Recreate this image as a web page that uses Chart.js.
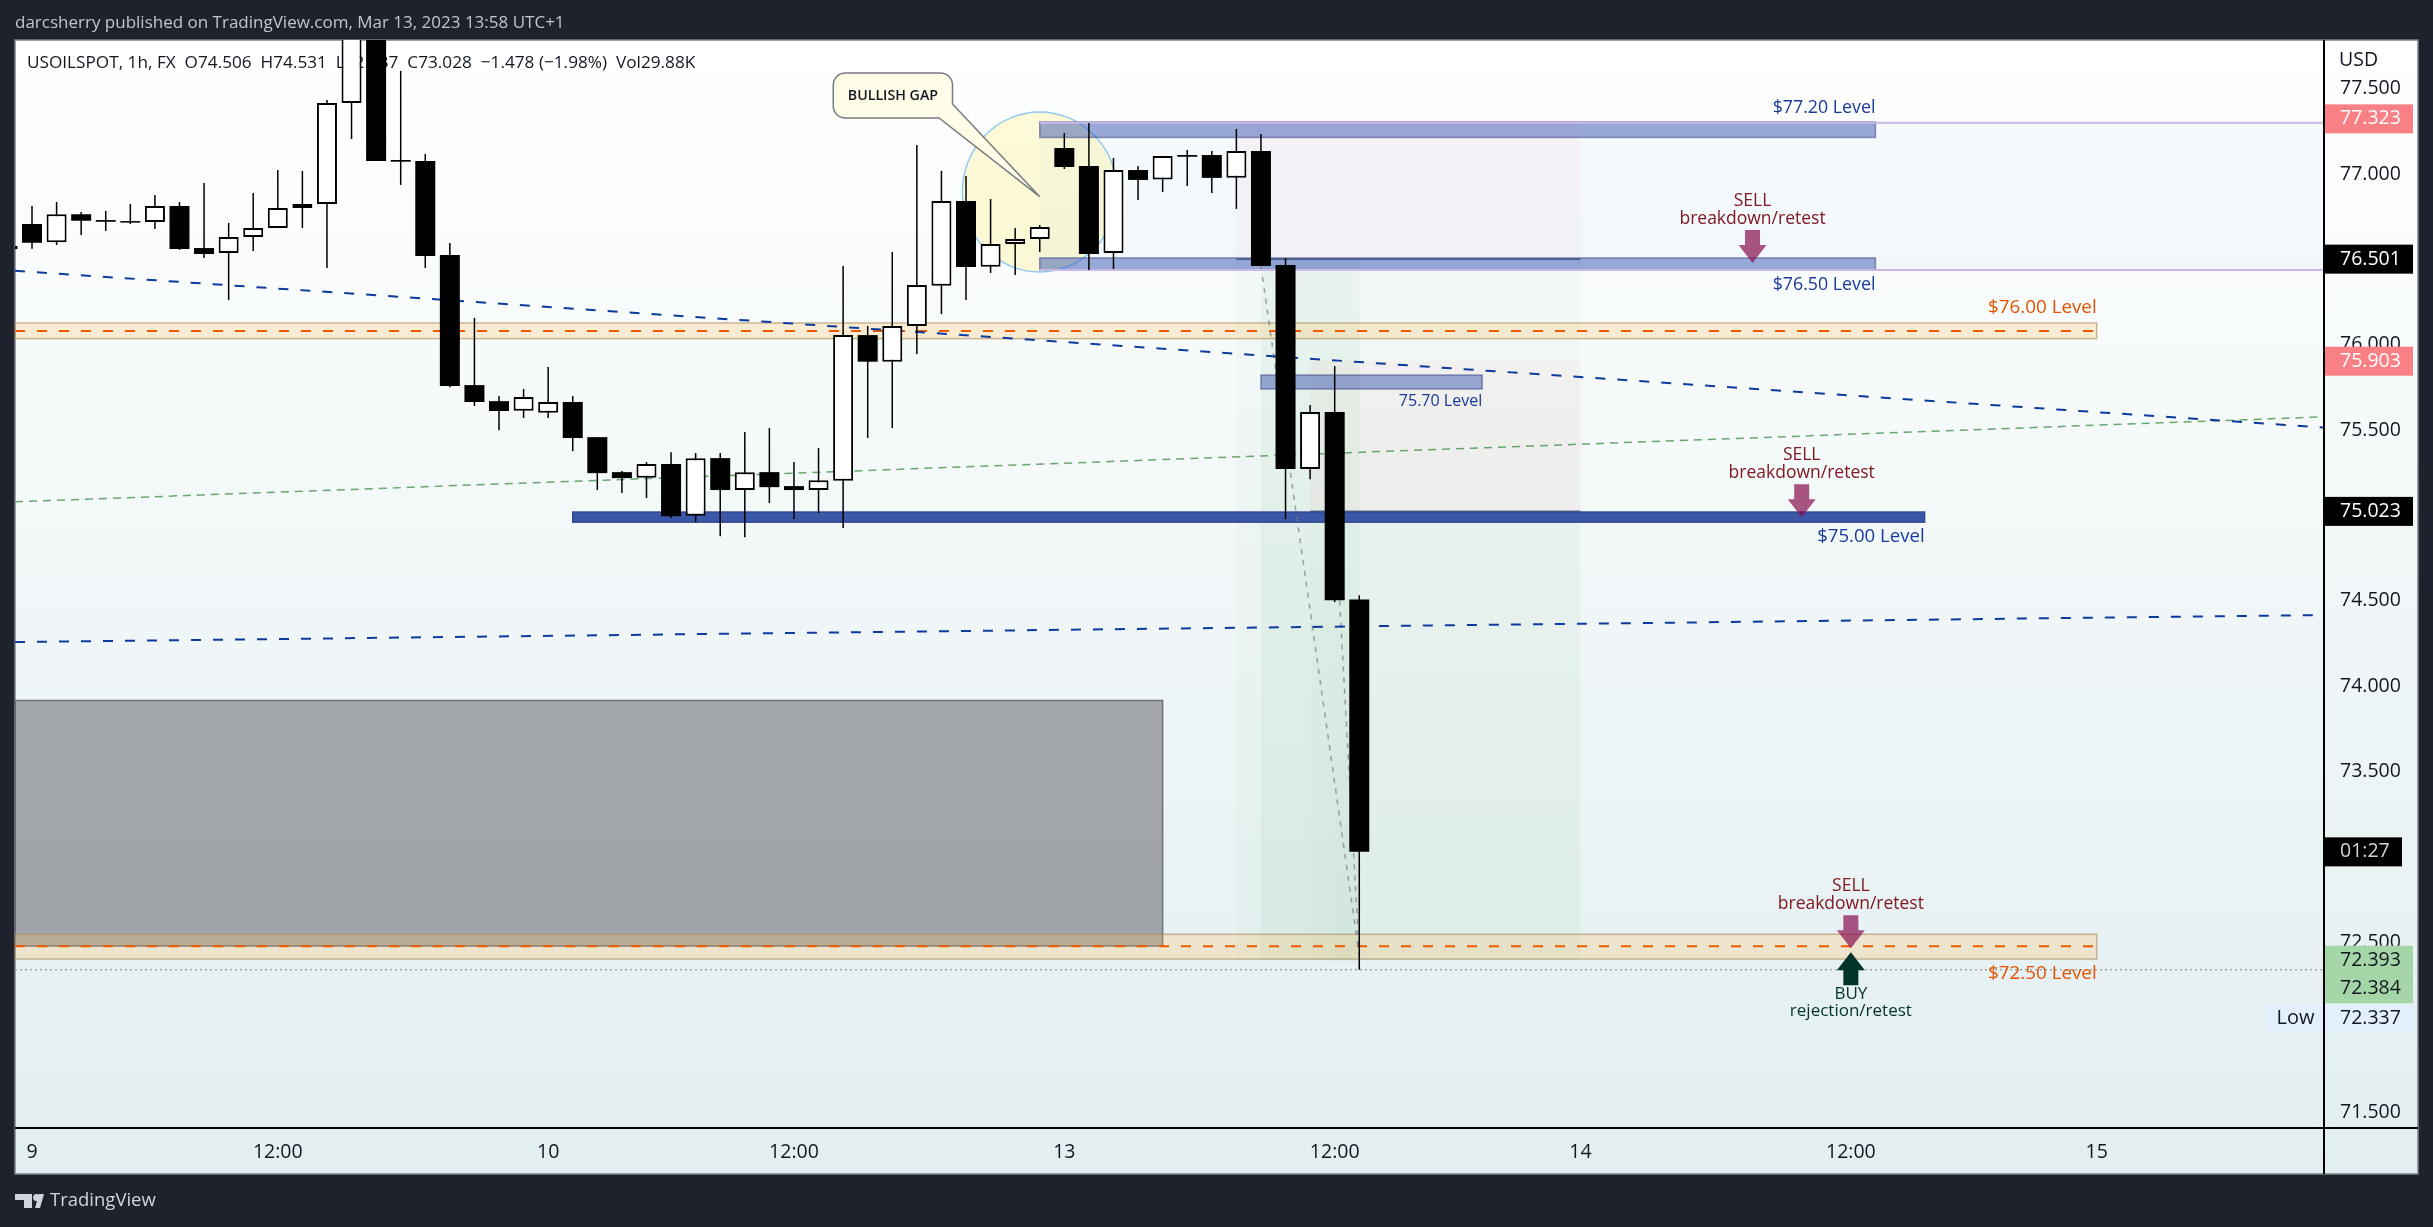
<!DOCTYPE html>
<html>
<head>
<meta charset="utf-8">
<title>USOILSPOT 1h</title>
<script src="https://cdn.jsdelivr.net/npm/chart.js@4"></script>
<style>
    html, body { margin: 0; padding: 0; background: #1e222d; overflow: hidden; }
    canvas { display: block; }
</style>
</head>
<body>
<canvas id="oilChart" width="2433" height="1227"></canvas>
<script>
// -- candle data, one entry per 1h bar, first bar is index -1 -- //
const barIndex = [-1,0,1,2,3,4,5,6,7,8,9,10,11,12,13,14,15,16,17,18,19,20,21,22,23,24,25,26,27,
    28,29,30,31,32,33,34,35,36,37,38,39,40,41,42,43,44,45,46,47,48,49,50,51,52,53,54];
const opens = [76.578,76.707,76.600,76.764,76.730,76.724,76.719,76.812,76.566,76.537,76.631,76.683,76.801,76.824,
    77.416,77.900,77.082,77.076,76.525,75.763,75.669,75.613,75.601,75.664,75.458,75.253,75.220,75.300,74.997,
    75.335,75.149,75.253,75.171,75.149,75.202,76.056,75.900,76.109,76.345,76.842,76.457,76.590,76.619,77.152,
    77.047,76.537,77.023,76.967,77.111,77.111,76.978,77.135,76.467,75.271,75.605,74.506];
const highs = [76.590,76.812,76.836,76.777,76.783,76.824,76.877,76.836,76.947,76.713,76.889,77.023,77.018,77.434,
    78.000,78.000,77.604,77.117,76.596,76.156,75.699,75.740,75.869,75.699,75.458,75.259,75.312,75.370,75.365,
    75.365,75.488,75.511,75.312,75.394,76.461,76.109,76.543,77.170,77.018,76.988,76.853,76.683,76.701,77.240,
    77.299,77.094,77.047,77.106,77.141,77.135,77.264,77.234,76.508,75.646,75.875,74.531];
const lows = [76.550,76.562,76.584,76.642,76.666,76.707,76.678,76.555,76.508,76.261,76.549,76.683,76.683,76.449,
    77.205,77.076,76.936,76.449,75.751,75.640,75.499,75.570,75.570,75.376,75.148,75.130,75.101,74.984,74.960,
    74.878,74.872,75.072,74.978,75.013,74.925,75.453,75.511,75.945,76.179,76.261,76.420,76.408,76.543,77.029,
    76.437,76.443,76.848,76.894,76.930,76.889,76.795,76.461,74.978,75.212,74.491,72.337];
const closes = [76.560,76.597,76.764,76.726,76.720,76.715,76.812,76.560,76.531,76.631,76.683,76.801,76.824,77.416,
    77.900,77.076,77.072,76.519,75.757,75.664,75.611,75.693,75.664,75.453,75.247,75.218,75.300,74.995,75.335,
    75.148,75.253,75.165,75.148,75.206,76.056,75.900,76.109,76.349,76.842,76.455,76.590,76.619,76.689,77.041,
    76.531,77.023,76.965,77.106,77.101,76.977,77.135,76.461,75.271,75.605,74.503,73.028];

// -- axes -- //
const priceTicks = [71.5,72,72.5,73,73.5,74,74.5,75,75.5,76,76.5,77,77.5];
const timeTickIndex = [0,10,21,31,42,53,63,74,84];
const timeTickLabels = ['9','12:00','10','12:00','13','12:00','14','12:00','15'];
const xRange = [-0.692, 93.25];
const yRange = [71.41, 77.785];

// -- drawings, in bar index and price: [x1, x2, priceTop, priceBottom] -- //
const blueBands = [[41,75,77.305,77.214],[41,75,76.508,76.437],[50,59,75.822,75.740]];
const level75Band = [22,77,75.019,74.960];
const orangeBands = [[-0.692,84,76.127,76.035],[-0.692,84,72.545,72.400]];
const orangeDashLevels = [76.080,72.475];
const grayBox = [-0.692,46,73.915,72.476];
const gapEllipse = [37.85,44.15,77.363,76.426];
const rangeLevels = [77.30,76.437];
const redZones = [[49,63,77.323,76.501],[52,63,75.903,75.023]];
const greenZones = [[49,63,76.501,72.393],[50,54,76.501,72.393],[52,63,75.023,72.384],[53,54,74.506,72.384]];
const calloutBox = [32.6,37.45,77.592,77.328];
const calloutTail = [[37.45,77.41],[41,76.867],[36.9,77.328]];
const lowLevel = 72.337;

// trend lines as two end points
const upperTrendX = [-0.692,93.25], upperTrendY = [76.433,75.514];
const lowerTrendX = [-0.692,92.81], lowerTrendY = [74.257,74.415];
const greenTrendX = [-0.692,93.25], greenTrendY = [75.079,75.577];
const fallLineAX = [50,54], fallLineAY = [76.461,72.422];
const fallLineBX = [53.2,54], fallLineBY = [74.500,72.422];

// -- texts on the chart: [text, bar index, price] -- //
const blueLevelTexts = [['$77.20 Level',75,77.387],['$76.50 Level',75,76.352],['$75.00 Level',77,74.872],['75.70 Level',59,75.669]];
const orangeLevelTexts = [['$76.00 Level',84,76.215],['$72.50 Level',84,72.312]];
const sellTexts = [['SELL',70,76.842],['breakdown/retest',70,76.736],['SELL',72,75.355],['breakdown/retest',72,75.247],
    ['SELL',74,72.826],['breakdown/retest',74,72.721]];
const buyTexts = [['BUY',74,72.193],['rejection/retest',74,72.094]];
const sellArrows = [[70,76.478],[72,74.989],[74,72.463]];
const buyArrows = [[74,72.440]];

// -- labels on the price axis -- //
const redPriceLabels = [77.323,75.903];
const blackPriceLabels = [76.501,75.023];
const greenPriceLabels = [72.393,72.384];
const lastClose = 73.028;
const countdown = '01:27';

const headerText = 'darcsherry published on TradingView.com, Mar 13, 2023 13:58 UTC+1';
const legendText = 'USOILSPOT, 1h, FX  O74.506  H74.531  L72.337  C73.028  \u22121.478 (\u22121.98%)  Vol29.88K';

const FONT = '"Open Sans", sans-serif';

// fill strength of each green zone
const greenAlpha = [0.03, 0.06, 0.025, 0.01];

function pairs(xs, ys) {
    return xs.map((x, i) => ({ x: x, y: ys[i] }));
}

function trendLine(xs, ys, color, width, dash) {
    return {
        type: 'line',
        data: pairs(xs, ys),
        borderColor: color,
        borderWidth: width,
        borderDash: dash,
        pointRadius: 0,
        order: 3
    };
}

function text(ctx, str, x, y, font, color, align) {
    ctx.font = font;
    ctx.fillStyle = color;
    ctx.textAlign = align || 'left';
    ctx.textBaseline = 'middle';
    ctx.fillText(str, x, y);
}

function box(ctx, sx, sy, b, fill, stroke) {
    const x1 = sx.getPixelForValue(b[0]), x2 = sx.getPixelForValue(b[1]);
    const y1 = sy.getPixelForValue(b[2]), y2 = sy.getPixelForValue(b[3]);
    ctx.fillStyle = fill;
    ctx.fillRect(x1, y1, x2 - x1, y2 - y1);
    if (stroke) {
        ctx.strokeStyle = stroke;
        ctx.lineWidth = 1.5;
        ctx.strokeRect(x1, y1, x2 - x1, y2 - y1);
    }
}

function arrow(ctx, x, tipY, dir, color) {
    // dir 1 points down, -1 points up
    ctx.fillStyle = color;
    ctx.beginPath();
    ctx.moveTo(x, tipY);
    ctx.lineTo(x - 14, tipY - dir * 18);
    ctx.lineTo(x - 7.5, tipY - dir * 18);
    ctx.lineTo(x - 7.5, tipY - dir * 33);
    ctx.lineTo(x + 7.5, tipY - dir * 33);
    ctx.lineTo(x + 7.5, tipY - dir * 18);
    ctx.lineTo(x + 14, tipY - dir * 18);
    ctx.closePath();
    ctx.fill();
}

// everything behind the candles
const backdrop = {
    id: 'backdrop',
    beforeDraw(chart) {
        const ctx = chart.ctx;
        ctx.save();
        ctx.fillStyle = '#1e222d';
        ctx.fillRect(0, 0, chart.width, chart.height);
        const grad = ctx.createLinearGradient(0, 40, 0, 1174);
        grad.addColorStop(0, '#ffffff');
        grad.addColorStop(1, '#e2eef0');
        ctx.fillStyle = grad;
        ctx.fillRect(15, 40, 2403, 1134);
        ctx.strokeStyle = '#7b808a';
        ctx.lineWidth = 1.5;
        ctx.strokeRect(15, 40, 2403, 1134);
        text(ctx, headerText, 15, 23, '17px ' + FONT, '#c2c5ce');
        // footer logo
        ctx.fillStyle = '#d1d4dc';
        ctx.fillRect(15, 1194, 17, 6);
        ctx.fillRect(24, 1194, 8, 14);
        ctx.beginPath();
        ctx.arc(36.5, 1197.5, 3.5, 0, Math.PI * 2);
        ctx.fill();
        ctx.beginPath();
        ctx.moveTo(35, 1208);
        ctx.lineTo(39, 1194);
        ctx.lineTo(44, 1194);
        ctx.lineTo(40, 1208);
        ctx.closePath();
        ctx.fill();
        text(ctx, 'TradingView', 50, 1201, '18.5px ' + FONT, '#d1d4dc');
        ctx.restore();
    },
    beforeDatasetsDraw(chart) {
        const ctx = chart.ctx, sx = chart.scales.x, sy = chart.scales.y, area = chart.chartArea;
        ctx.save();
        ctx.beginPath();
        ctx.rect(area.left, area.top, area.width, area.height);
        ctx.clip();

        text(ctx, legendText, 27, 63, '17.2px ' + FONT, '#131722');

        // range between the two purple levels
        box(ctx, sx, sy, [41, sx.max, rangeLevels[0], rangeLevels[1]], 'rgba(33,150,243,0.035)');

        greenZones.forEach((z, i) => box(ctx, sx, sy, z, 'rgba(76,175,80,' + greenAlpha[i] + ')'));
        redZones.forEach(z => box(ctx, sx, sy, z, 'rgba(244,67,54,0.035)'));

        // entry lines of the two positions
        ctx.fillStyle = 'rgba(60,65,80,0.65)';
        redZones.forEach(z => {
            ctx.fillRect(sx.getPixelForValue(z[0]), sy.getPixelForValue(z[3]) - 1, sx.getPixelForValue(z[1]) - sx.getPixelForValue(z[0]), 2);
        });

        // gap circle
        const ex1 = sx.getPixelForValue(gapEllipse[0]), ex2 = sx.getPixelForValue(gapEllipse[1]);
        const ey1 = sy.getPixelForValue(gapEllipse[2]), ey2 = sy.getPixelForValue(gapEllipse[3]);
        ctx.beginPath();
        ctx.ellipse((ex1 + ex2) / 2, (ey1 + ey2) / 2, (ex2 - ex1) / 2, (ey2 - ey1) / 2, 0, 0, Math.PI * 2);
        ctx.fillStyle = 'rgba(255,235,59,0.2)';
        ctx.fill();
        ctx.strokeStyle = 'rgba(100,181,246,0.7)';
        ctx.lineWidth = 1.5;
        ctx.stroke();

        box(ctx, sx, sy, grayBox, 'rgba(110,111,117,0.59)', 'rgba(90,93,100,0.8)');
        orangeBands.forEach(b => box(ctx, sx, sy, b, 'rgba(255,190,90,0.25)', 'rgba(170,140,90,0.6)'));
        blueBands.forEach(b => box(ctx, sx, sy, b, 'rgba(40,70,170,0.45)', 'rgba(60,70,130,0.55)'));
        box(ctx, sx, sy, level75Band, '#3a57a8', '#2f478f');

        // dashes in the middle of the orange bands
        ctx.strokeStyle = '#ef5a00';
        ctx.lineWidth = 2;
        ctx.setLineDash([10, 12]);
        orangeDashLevels.forEach((lvl, i) => {
            const y = sy.getPixelForValue(lvl);
            ctx.beginPath();
            ctx.moveTo(sx.getPixelForValue(orangeBands[i][0]), y);
            ctx.lineTo(sx.getPixelForValue(orangeBands[i][1]), y);
            ctx.stroke();
        });

        // dotted line at the session low
        ctx.strokeStyle = '#787b86';
        ctx.lineWidth = 1;
        ctx.setLineDash([2, 3]);
        const lowY = sy.getPixelForValue(lowLevel);
        ctx.beginPath();
        ctx.moveTo(area.left, lowY);
        ctx.lineTo(area.right, lowY);
        ctx.stroke();
        ctx.setLineDash([]);
        ctx.restore();
    },
    afterDatasetsDraw(chart) {
        const ctx = chart.ctx, sx = chart.scales.x, sy = chart.scales.y;
        ctx.save();

        // callout
        const bx1 = sx.getPixelForValue(calloutBox[0]), bx2 = sx.getPixelForValue(calloutBox[1]);
        const by1 = sy.getPixelForValue(calloutBox[2]), by2 = sy.getPixelForValue(calloutBox[3]);
        const r = 12;
        ctx.beginPath();
        ctx.moveTo(bx1 + r, by1);
        ctx.lineTo(bx2 - r, by1);
        ctx.arcTo(bx2, by1, bx2, by1 + r, r);
        calloutTail.forEach(p => ctx.lineTo(sx.getPixelForValue(p[0]), sy.getPixelForValue(p[1])));
        ctx.lineTo(bx1 + r, by2);
        ctx.arcTo(bx1, by2, bx1, by2 - r, r);
        ctx.lineTo(bx1, by1 + r);
        ctx.arcTo(bx1, by1, bx1 + r, by1, r);
        ctx.closePath();
        ctx.fillStyle = '#fffde7';
        ctx.fill();
        ctx.strokeStyle = '#777a80';
        ctx.lineWidth = 1.5;
        ctx.stroke();
        text(ctx, 'BULLISH GAP', (bx1 + bx2) / 2, (by1 + by2) / 2, '600 14.2px ' + FONT, '#131722', 'center');

        // level captions, the $75 and 75.70 ones have their own size
        const levelSizes = [17.8, 17.8, 18.6, 16];
        blueLevelTexts.forEach((t, i) => text(ctx, t[0], sx.getPixelForValue(t[1]), sy.getPixelForValue(t[2]),
            levelSizes[i] + 'px ' + FONT, '#1a3a9c', 'right'));
        orangeLevelTexts.forEach(t => text(ctx, t[0], sx.getPixelForValue(t[1]), sy.getPixelForValue(t[2]), '18.8px ' + FONT, '#e65100', 'right'));
        sellTexts.forEach(t => text(ctx, t[0], sx.getPixelForValue(t[1]), sy.getPixelForValue(t[2]), '17.5px ' + FONT, '#801922', 'center'));
        buyTexts.forEach(t => text(ctx, t[0], sx.getPixelForValue(t[1]), sy.getPixelForValue(t[2]), '17px ' + FONT, '#00332a', 'center'));

        sellArrows.forEach(a => arrow(ctx, sx.getPixelForValue(a[0]), sy.getPixelForValue(a[1]), 1, 'rgba(136,14,79,0.7)'));
        buyArrows.forEach(a => arrow(ctx, sx.getPixelForValue(a[0]), sy.getPixelForValue(a[1]), -1, '#00332a'));
        ctx.restore();
    },
    afterDraw(chart) {
        const ctx = chart.ctx, sy = chart.scales.y, area = chart.chartArea;
        ctx.save();

        function priceLabel(value, nudge, fill, color, str, w) {
            const y = sy.getPixelForValue(value) + nudge;
            ctx.fillStyle = fill;
            ctx.fillRect(area.right, y - 14.5, w || 89, 29);
            text(ctx, str || value.toFixed(3), 2340, y, '19.5px ' + FONT, color);
        }
        redPriceLabels.forEach(v => priceLabel(v, 0, '#f98085', '#ffffff'));
        blackPriceLabels.forEach(v => priceLabel(v, 0, '#000000', '#ffffff'));
        priceLabel(lastClose, 0, '#000000', '#d1d4dc', countdown, 78);
        priceLabel(greenPriceLabels[0], 0, '#a5d6a7', '#131722');
        priceLabel(greenPriceLabels[1], 27, '#a5d6a7', '#131722');
        priceLabel(lowLevel, 49, '#e3effd', '#131722');
        ctx.fillStyle = '#e3effd';
        ctx.fillRect(2267, sy.getPixelForValue(lowLevel) + 34.5, 57, 29);
        text(ctx, 'Low', 2295.5, sy.getPixelForValue(lowLevel) + 49, '20px ' + FONT, '#131722', 'center');

        text(ctx, 'USD', 2339, 60, '19.5px ' + FONT, '#131722');

        // axis lines
        ctx.fillStyle = '#000000';
        ctx.fillRect(area.right - 1, 40, 2, 1134);
        ctx.fillRect(15, area.bottom - 1, 2403, 2);
        ctx.restore();
    }
};

const isUp = opens.map((o, i) => closes[i] >= o);

new Chart(document.getElementById('oilChart'), {
    type: 'bar',
    data: {
        datasets: [
            {
                label: 'Body',
                data: barIndex.map((x, i) => ({ x: x, y: [opens[i], closes[i]] })),
                backgroundColor: isUp.map(up => up ? '#ffffff' : '#000000'),
                borderColor: '#000000',
                borderWidth: isUp.map(up => up ? 2 : 0),
                borderSkipped: false,
                inflateAmount: 0,
                barThickness: 20,
                grouped: false,
                order: 0
            },
            {
                label: 'Wick',
                data: barIndex.map((x, i) => ({ x: x, y: [lows[i], highs[i]] })),
                backgroundColor: '#000000',
                borderWidth: 0,
                inflateAmount: 0,
                barThickness: 1.5,
                grouped: false,
                order: 1
            },
            trendLine(rangeLevelsX(), [rangeLevels[0], rangeLevels[0]], '#c9b8e8', 2, []),
            trendLine(rangeLevelsX(), [rangeLevels[1], rangeLevels[1]], '#c9b8e8', 2, []),
            trendLine(upperTrendX, upperTrendY, '#0d3a9e', 2, [10, 12]),
            trendLine(lowerTrendX, lowerTrendY, '#0d3a9e', 2, [10, 12]),
            trendLine(greenTrendX, greenTrendY, 'rgba(56,142,60,0.75)', 1.5, [8, 6]),
            trendLine(fallLineAX, fallLineAY, 'rgba(120,123,134,0.7)', 1.5, [5, 6]),
            trendLine(fallLineBX, fallLineBY, 'rgba(120,123,134,0.7)', 1.5, [5, 6])
        ]
    },
    options: {
        responsive: false,
        animation: false,
        devicePixelRatio: 1,
        events: [],
        layout: { padding: { left: 15, top: 40, right: 15, bottom: 53 } },
        plugins: { legend: { display: false }, title: { display: false }, tooltip: { enabled: false } },
        scales: {
            x: {
                type: 'linear',
                offset: false,
                min: xRange[0],
                max: xRange[1],
                grid: { display: false, drawTicks: false },
                border: { display: false },
                afterBuildTicks: scale => { scale.ticks = timeTickIndex.map(v => ({ value: v })); },
                afterFit: scale => { scale.height = 46; },
                ticks: {
                    autoSkip: false,
                    maxRotation: 0,
                    padding: 13,
                    color: '#131722',
                    font: { family: FONT, size: 19.5 },
                    callback: value => timeTickLabels[timeTickIndex.indexOf(value)]
                }
            },
            y: {
                type: 'linear',
                position: 'right',
                min: yRange[0],
                max: yRange[1],
                grid: { display: false, drawTicks: false },
                border: { display: false },
                afterBuildTicks: scale => { scale.ticks = priceTicks.map(v => ({ value: v })); },
                afterFit: scale => { scale.width = 94; },
                ticks: {
                    autoSkip: false,
                    padding: 16,
                    color: '#131722',
                    font: { family: FONT, size: 19.5 },
                    callback: value => value.toFixed(3)
                }
            }
        }
    },
    plugins: [backdrop]
});

function rangeLevelsX() {
    return [41, xRange[1]];
}
</script>
</body>
</html>
